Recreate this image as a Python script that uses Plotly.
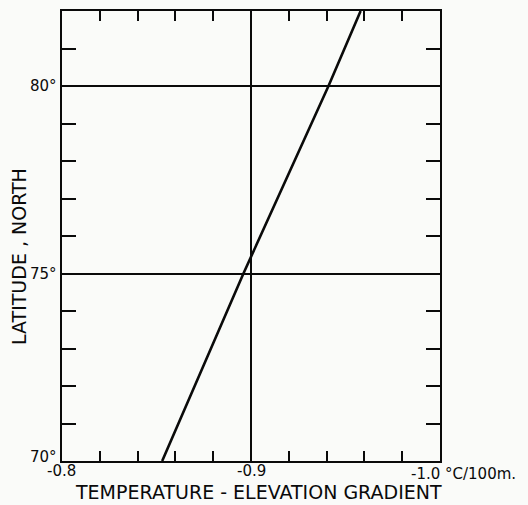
import plotly.graph_objects as go

# Data
latitude = [70, 75, 80, 82]
gradient = [-0.853, -0.896, -0.941, -0.958]

x_tick_vals = [-0.8, -0.9, -1.0]
x_tick_text = ["-0.8", "-0.9", "-1.0 °C/100m."]
y_tick_vals = [70, 75, 80]
y_tick_text = ["70°", "75°", "80°"]

FONT = "DejaVu Sans"
INK = "#0a0a0a"
BG = "#fafbf9"

fig = go.Figure()
fig.add_trace(go.Scatter(x=gradient, y=latitude, mode="lines",
                         line=dict(color=INK, width=2.6), showlegend=False,
                         hoverinfo="skip"))

# page body has an 8px margin, so the figure is sized/positioned to compensate
fig.update_layout(
    width=520, height=497,
    margin=dict(l=54, r=88, t=1, b=44),
    paper_bgcolor=BG, plot_bgcolor=BG,
    font=dict(family=FONT, color=INK),
)

fig.update_xaxes(
    range=[-0.8, -1.0], autorange=False,
    tickvals=[-0.9], showticklabels=False,
    ticks="inside", ticklen=0, tickcolor=INK,
    showgrid=True, gridcolor=INK, gridwidth=1.6,
    showline=True, linecolor=INK, linewidth=2.2, mirror="allticks",
    zeroline=False,
    minor=dict(dtick=0.02, tick0=-0.8, ticks="inside", ticklen=10,
               tickcolor=INK, tickwidth=1.6, showgrid=False),
)
fig.update_yaxes(
    range=[70, 82], autorange=False,
    tickvals=[75, 80], showticklabels=False,
    ticks="inside", ticklen=0, tickcolor=INK,
    showgrid=True, gridcolor=INK, gridwidth=1.6,
    showline=True, linecolor=INK, linewidth=2.2, mirror="allticks",
    zeroline=False,
    minor=dict(dtick=1, tick0=70, ticks="inside", ticklen=14,
               tickcolor=INK, tickwidth=1.6, showgrid=False),
)

annotations = []
# x tick labels
for v, t in zip(x_tick_vals, x_tick_text):
    if v == -1.0:
        annotations.append(dict(x=v, y=0, xref="x", yref="paper", text=t,
                                showarrow=False, xanchor="left", yanchor="middle",
                                xshift=-31, yshift=-13,
                                font=dict(family=FONT, size=15, color=INK)))
    else:
        annotations.append(dict(x=v, y=0, xref="x", yref="paper", text=t,
                                showarrow=False, xanchor="center", yanchor="middle",
                                xshift=(-1 if v == -0.8 else 0), yshift=-10,
                                font=dict(family=FONT, size=15, color=INK)))
# y tick labels
for v, t in zip(y_tick_vals, y_tick_text):
    annotations.append(dict(x=0, y=v, xref="paper", yref="y", text=t,
                            showarrow=False, xanchor="right", yanchor="middle",
                            xshift=-3, yshift=(4 if v == 70 else 0),
                            font=dict(family=FONT, size=15, color=INK)))
# axis titles
annotations.append(dict(x=0.5, y=0, xref="paper", yref="paper",
                        text="TEMPERATURE - ELEVATION GRADIENT",
                        showarrow=False, xanchor="center", yanchor="middle",
                        yshift=-31, xshift=7,
                        font=dict(family=FONT, size=19, color=INK)))
annotations.append(dict(x=0, y=0.5, xref="paper", yref="paper",
                        text="LATITUDE , NORTH", textangle=-90,
                        showarrow=False, xanchor="center", yanchor="middle",
                        xshift=-43, yshift=-21,
                        font=dict(family=FONT, size=19, color=INK)))
fig.update_layout(annotations=annotations)

fig.write_html("out.html",
               post_script="document.body.style.background='%s';" % BG)
